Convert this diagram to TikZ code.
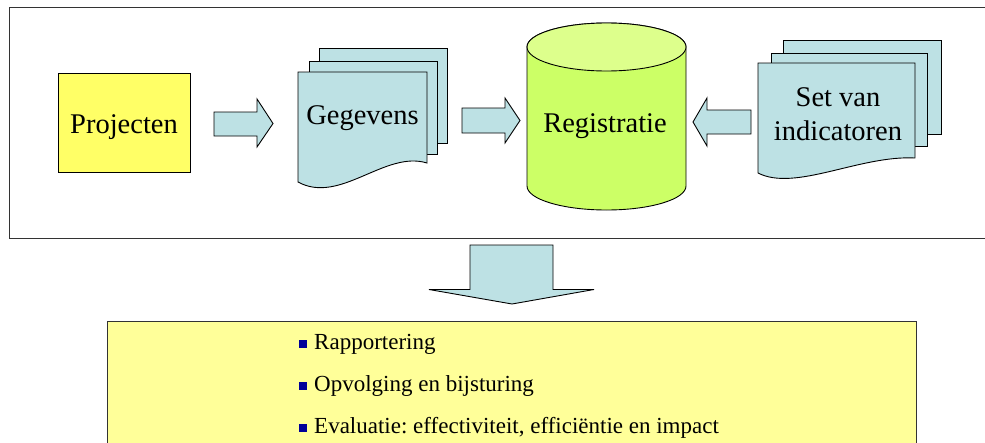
\documentclass[tikz,border=0pt]{standalone}
\usepackage{fontspec}
\setmainfont{Liberation Serif}
\frenchspacing
\usetikzlibrary{calc}

\definecolor{docblue}{RGB}{189,225,228}
\definecolor{projyellow}{RGB}{255,255,102}
\definecolor{dbgreen}{RGB}{204,255,102}
\definecolor{dbtop}{RGB}{221,255,140}
\definecolor{listyellow}{RGB}{255,255,153}
\definecolor{bulletblue}{RGB}{0,0,153}

\begin{document}
\begin{tikzpicture}[x=1pt,y=-1pt,line join=miter,
    shapeline/.style={draw=black,line width=0.9pt},
    docpage/.style={shapeline,fill=docblue},
    blockarrow/.style={shapeline,fill=docblue},
    bigtext/.style={font=\fontsize{28.5}{34}\selectfont,inner sep=0pt},
    listtext/.style={font=\fontsize{23}{28}\selectfont,inner sep=0pt,anchor=base west}]

    % Page size and outer frame
    \useasboundingbox (0,0) rectangle (985,442);
    \clip (0,0) rectangle (985,442);
    \draw[line width=0.9pt,draw=black!80] (9,7) rectangle (992,238);

    % Projecten
    \coordinate (P1) at (58,73);
    \coordinate (P2) at (190,172);
    \draw[shapeline,fill=projyellow] (P1) rectangle (P2);
    \node[bigtext,anchor=base] (proj) at (124,133) {Projecten};

    % Arrow to Gegevens
    \draw[blockarrow] (214,112) -- (257,112) -- (257,99) -- (273,123.5)
        -- (257,147) -- (257,136) -- (214,136) -- cycle;

    % Gegevens (three sheets)
    \draw[docpage] (319,48) rectangle (447,143);
    \draw[docpage] (309,61) rectangle (437,154);
    \coordinate (G1) at (298,72);
    \coordinate (G2) at (427,72);
    \coordinate (G3) at (427,163);
    \coordinate (G4) at (298,182);
    \draw[docpage] (G1) -- (G2) -- (G3) .. controls (385,150) and (340,205) .. (G4) -- cycle;
    \node[bigtext,anchor=base] (geg) at (362.5,124) {Gegevens};

    % Arrow to Registratie
    \draw[blockarrow] (462,108) -- (505,108) -- (505,98) -- (520,120.5)
        -- (505,143) -- (505,133) -- (462,133) -- cycle;

    % Registratie (cylinder)
    \coordinate (D1) at (527,47);
    \coordinate (D2) at (527,186);
    \coordinate (D3) at (686,47);
    \draw[shapeline,fill=dbgreen] (D1) -- (D2)
        arc[start angle=180,end angle=360,x radius=79.5pt,y radius=24pt]
        -- (D3) arc[start angle=0,end angle=180,x radius=79.5pt,y radius=24pt] -- cycle;
    \draw[shapeline,fill=dbtop] (606.5,47) ellipse[x radius=79.5pt,y radius=24pt];
    \node[bigtext,anchor=base] (reg) at (605,132) {Registratie};

    % Arrow from the indicators
    \draw[blockarrow] (751,110) -- (707,110) -- (707,98) -- (693,122)
        -- (707,146) -- (707,134) -- (751,134) -- cycle;

    % Set van indicatoren (three sheets)
    \draw[docpage] (783,40) rectangle (941,134);
    \draw[docpage] (771,53) rectangle (927,146);
    \coordinate (S1) at (758,63);
    \coordinate (S2) at (915,63);
    \coordinate (S3) at (915,158);
    \coordinate (S4) at (758,173);
    \draw[docpage] (S1) -- (S2) -- (S3) .. controls (860,155) and (795,192) .. (S4) -- cycle;
    \node[bigtext,align=center] (ind) at (838,114) {Set van\\indicatoren};

    % Arrow down to the results
    \draw[blockarrow] (470,245) -- (553,245) -- (553,289.5) -- (594,289.5)
        -- (512,304) -- (429,289.5) -- (470,289.5) -- cycle;

    % Results
    \draw[line width=0.9pt,draw=black!80,fill=listyellow] (107,321) rectangle (916,470);
    \node[listtext] (rap) at (299,349) {{\color{bulletblue}\rule[1pt]{8pt}{8pt}}\hspace{7pt}Rapportering};
    \node[listtext] (opv) at (299,391) {{\color{bulletblue}\rule[1pt]{8pt}{8pt}}\hspace{7pt}Opvolging en bijsturing};
    \node[listtext] (eva) at (299,433) {{\color{bulletblue}\rule[1pt]{8pt}{8pt}}\hspace{7pt}Evaluatie: effectiviteit, efficiëntie en impact};

\end{tikzpicture}
\end{document}
